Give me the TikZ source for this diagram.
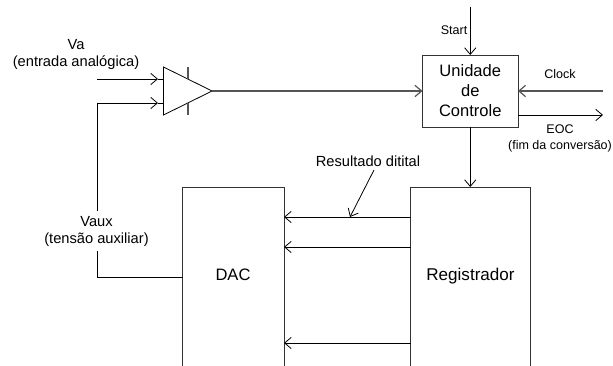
\documentclass[tikz,border=0pt]{standalone}
\usepackage{fontspec}
\setmainfont{Liberation Sans}
\usepackage{xcolor}
\usetikzlibrary{arrows.meta, shapes.geometric}
\definecolor{softline}{HTML}{555555}
\tikzset{
  block/.style={
    draw=black!80, line width=0.6pt, fill=white,
    inner sep=0pt, outer sep=0pt
  },
  amp block/.style={
    draw=black, line width=0.6pt,
    shape=isosceles triangle,
    isosceles triangle stretches,
    minimum width=36pt, minimum height=36.4pt,
    inner sep=0pt, outer sep=0pt
  },
  wire/.style={line width=0.6pt, color=black},
  soft wire/.style={line width=0.9pt, color=softline},
  sig/.style={-{Straight Barb[length=5pt,width=8.5pt]}, wire},
  soft sig/.style={-{Straight Barb[length=5pt,width=8.5pt]}, soft wire},
  big text/.style={font=\fontsize{12.4}{15}\selectfont, align=center, inner sep=0pt},
  mid text/.style={font=\fontsize{11}{12.75}\selectfont, align=center, inner sep=0pt},
  small text/.style={font=\fontsize{9.4}{12}\selectfont, align=center, inner sep=0pt}
}
\begin{document}
\begin{tikzpicture}[x=0.75pt, y=-0.75pt]
  \useasboundingbox (0, 0) rectangle (613, 366);
  \clip (0, 0) rectangle (613, 366);

  % Blocks
  \node[block, minimum width=71.6pt, minimum height=54pt, big text] (ctrl) at (470.25, 91) {Unidade\\de\\Controle};
  \node[block, minimum width=76.5pt, minimum height=165pt] (dac) at (233, 297) {};
  \node[block, minimum width=90pt, minimum height=165pt] (reg) at (470.5, 297) {};
  \node[big text] (dac text) at (233, 275) {DAC};
  \node[big text, font=\fontsize{12.8}{15}\selectfont] (reg text) at (470.5, 276) {Registrador};

  % Comparator
  \node[amp block, anchor=lower side] (amp) at (163.5, 91) {};
  \coordinate (bar top a) at (188, 67);
  \coordinate (bar top b) at (188, 79);
  \coordinate (bar low a) at (188, 103);
  \coordinate (bar low b) at (188, 115);
  \draw[soft wire] (bar top a) -- (bar top b);
  \draw[soft wire] (bar low a) -- (bar low b);

  % Points on the lines
  \coordinate (va start) at (97, 79);
  \coordinate (va tip) at (158, 79);
  \coordinate (va end) at (163.5, 79);
  \coordinate (fb tip) at (158, 103);
  \coordinate (fb end) at (163.5, 103);
  \coordinate (fb corner) at (97, 103);
  \coordinate (fb low) at (97, 277);
  \coordinate (dac in) at (182.5, 277);
  \coordinate (start top) at (470.25, 7);
  \coordinate (clock start) at (603, 91);
  \coordinate (eoc start) at (518, 115);
  \coordinate (eoc end) at (603, 115);
  \coordinate (reg top) at (470.25, 187);
  \coordinate (dac a) at (284, 217);
  \coordinate (dac b) at (284, 247);
  \coordinate (dac c) at (284, 343);
  \coordinate (reg a) at (410.5, 217);
  \coordinate (reg b) at (410.5, 247);
  \coordinate (reg c) at (410.5, 343);
  \coordinate (res start) at (374, 170);
  \coordinate (res end) at (350, 217);

  % Inputs
  \draw[sig] (va start) -- (va tip);
  \draw[wire] (va tip) -- (va end);
  \draw[sig] (fb corner) -- (fb tip);
  \draw[wire] (fb tip) -- (fb end);
  \draw[wire] (fb corner) -- (fb low) -- (dac in);
  \draw[soft sig] (amp.apex) -- (ctrl.west);

  % Control unit
  \draw[sig] (start top) -- (ctrl.north);
  \draw[soft sig] (clock start) -- (ctrl.east);
  \draw[sig] (eoc start) -- (eoc end);
  \draw[sig] (ctrl.south) -- (reg top);

  % Digital result
  \draw[sig] (reg a) -- (dac a);
  \draw[sig] (reg b) -- (dac b);
  \draw[sig] (reg c) -- (dac c);
  \draw[sig] (res start) -- (res end);

  % Labels
  \node[mid text] (va label) at (76, 54) {Va\\(entrada analógica)};
  \node[mid text, fill=white, minimum height=30pt] (vaux label) at (96.5, 231) {Vaux\\(tensão auxiliar)};
  \node[small text] (start label) at (454, 30) {Start};
  \node[small text] (clock label) at (560, 74) {Clock};
  \node[small text] (eoc label) at (560, 138) {EOC\\(fim da conversão)};
  \node[mid text] (res label) at (368, 161) {Resultado ditital};
\end{tikzpicture}
\end{document}
